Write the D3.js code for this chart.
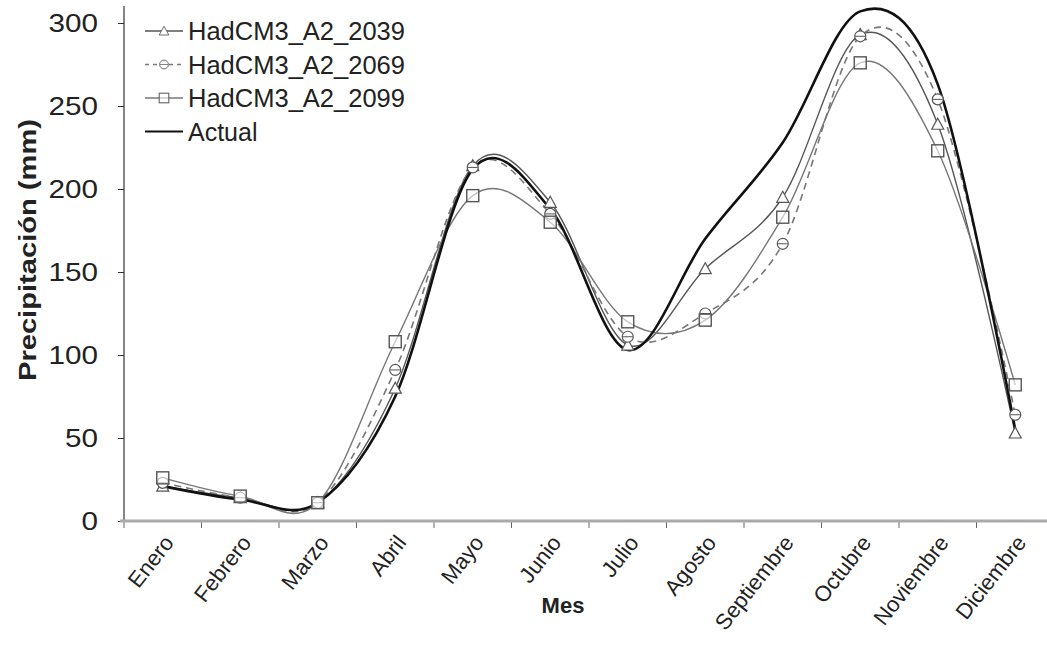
<!DOCTYPE html>
<html>
<head>
<meta charset="utf-8">
<script src="https://cdn.jsdelivr.net/npm/d3@7"></script>
<style>
  body { margin: 0; background: #fff; }
  text { font-family: Arial, "Liberation Sans", sans-serif; }
</style>
</head>
<body>
<div id="chart"></div>
<script>
// chart size
const width = 1047;
const height = 659;

// months on the x axis
const months = ["Enero", "Febrero", "Marzo", "Abril", "Mayo", "Junio", "Julio",
  "Agosto", "Septiembre", "Octubre", "Noviembre", "Diciembre"];

// precipitation values (mm)
const had2039 = [21, 14, 11, 80, 214, 192, 106, 152, 195, 293, 239, 53];
const had2069 = [23, 14, 11, 91, 213, 185, 111, 125, 167, 292, 254, 64];
const had2099 = [26, 15, 11, 108, 196, 180, 120, 121, 183, 276, 223, 82];
const actual  = [21, 13, 11, 75, 212, 188, 103, 170, 228, 307, 263, 55];

// y axis ticks
const yTicks = [0, 50, 100, 150, 200, 250, 300];

const series = [
  {name: "HadCM3_A2_2039", values: had2039, color: "#555", dash: null, marker: "triangle", width: 1.4},
  {name: "HadCM3_A2_2069", values: had2069, color: "#777", dash: "7,5", marker: "circle", width: 1.6},
  {name: "HadCM3_A2_2099", values: had2099, color: "#777", dash: null, marker: "square", width: 1.4},
  {name: "Actual", values: actual, color: "#111", dash: null, marker: null, width: 2.6}
];

const svg = d3.select("#chart")
  .append("svg")
  .attr("width", width)
  .attr("height", height);

// scales - category axis runs off the right edge like the original crop
const x = d3.scaleBand()
  .domain(months)
  .range([124, 124 + 12 * 77.5]);

const y = d3.scaleLinear()
  .domain([0, 300])
  .range([521, 23]);

const cx = d => x(d) + x.bandwidth() / 2;

// y axis
const yAxis = svg.append("g")
  .attr("transform", "translate(124,0)")
  .call(d3.axisLeft(y).tickValues(yTicks).tickSize(6).tickPadding(20));
yAxis.select(".domain").remove();
yAxis.selectAll("line").attr("stroke", "#333");
yAxis.selectAll("text")
  .attr("font-size", "25px")
  .attr("fill", "#222")
  .attr("textLength", d => String(d).length * 16.5)
  .attr("lengthAdjust", "spacingAndGlyphs")
  .style("font-family", "Arial, 'Liberation Sans', sans-serif");

svg.append("line")
  .attr("x1", 124).attr("x2", 124)
  .attr("y1", 6).attr("y2", y(0))
  .attr("stroke", "#333")
  .attr("stroke-width", 1.2);

// x axis (gray thick line with ticks between categories)
const bounds = months.map(m => x(m)).concat([x.range()[1]]);
svg.selectAll(".xtick")
  .data(bounds)
  .enter()
  .append("line")
  .attr("class", "xtick")
  .attr("x1", d => d).attr("x2", d => d)
  .attr("y1", y(0)).attr("y2", y(0) + 7)
  .attr("stroke", "#666");

svg.append("line")
  .attr("x1", 120).attr("x2", width)
  .attr("y1", y(0)).attr("y2", y(0))
  .attr("stroke", "#aaa")
  .attr("stroke-width", 3);

svg.selectAll(".xlabel")
  .data(months)
  .enter()
  .append("text")
  .attr("class", "xlabel")
  .attr("text-anchor", "end")
  .attr("font-size", "22px")
  .attr("fill", "#222")
  .attr("transform", d => `translate(${cx(d) + 12},${y(0) + 22}) rotate(-52)`)
  .text(d => d);

// axis titles
svg.append("text")
  .attr("x", 563).attr("y", 613)
  .attr("text-anchor", "middle")
  .attr("font-size", "22px")
  .attr("font-weight", "bold")
  .attr("fill", "#222")
  .text("Mes");

svg.append("text")
  .attr("transform", "translate(36,250) rotate(-90)")
  .attr("text-anchor", "middle")
  .attr("font-size", "23px")
  .attr("font-weight", "bold")
  .attr("fill", "#222")
  .attr("textLength", 262)
  .attr("lengthAdjust", "spacingAndGlyphs")
  .text("Precipitación (mm)");

// smoothed lines like the Excel original
const line = d3.line()
  .x((d, i) => cx(months[i]))
  .y(d => y(d))
  .curve(d3.curveCardinal.tension(0));

svg.selectAll(".series")
  .data(series)
  .enter()
  .append("path")
  .attr("class", "series")
  .attr("d", d => line(d.values))
  .attr("fill", "none")
  .attr("stroke", d => d.color)
  .attr("stroke-width", d => d.width)
  .attr("stroke-dasharray", d => d.dash);

// markers
function drawMarker(g, type, color) {
  if (type === "triangle") {
    g.append("path").attr("d", "M0,-6L6,5L-6,5Z")
      .attr("fill", "#fff").attr("stroke", color).attr("stroke-width", 1.2);
  } else if (type === "circle") {
    g.append("circle").attr("r", 5.5)
      .attr("fill", "#fff").attr("stroke", color).attr("stroke-width", 1.2);
    g.append("line").attr("x1", -5).attr("x2", 5)
      .attr("stroke", color).attr("stroke-width", 1);
  } else if (type === "square") {
    g.append("rect").attr("x", -6).attr("y", -6).attr("width", 12).attr("height", 12)
      .attr("fill", "#fff").attr("fill-opacity", 0.6).attr("stroke", color).attr("stroke-width", 1.4);
  }
}

series.filter(s => s.marker).forEach(s => {
  s.values.forEach((v, i) => {
    const g = svg.append("g").attr("transform", `translate(${cx(months[i])},${y(v)})`);
    drawMarker(g, s.marker, "#555");
  });
});

// legend
const legend = svg.append("g").attr("transform", "translate(145,31)");
series.forEach((s, i) => {
  const row = legend.append("g").attr("transform", `translate(0,${i * 33.5})`);
  row.append("line")
    .attr("x1", 0).attr("x2", 38)
    .attr("stroke", s.color)
    .attr("stroke-width", s.marker ? 1.4 : 2)
    .attr("stroke-dasharray", s.dash ? "4,4" : null);
  if (s.marker) {
    const m = row.append("g").attr("transform", "translate(19,0) scale(0.8)");
    drawMarker(m, s.marker, "#666");
  }
  const t = row.append("text")
    .attr("x", 43).attr("y", 9)
    .attr("font-size", "25px")
    .attr("fill", "#222")
    .text(s.name);
  if (s.marker) t.attr("textLength", 217).attr("lengthAdjust", "spacingAndGlyphs");
});
</script>
</body>
</html>
